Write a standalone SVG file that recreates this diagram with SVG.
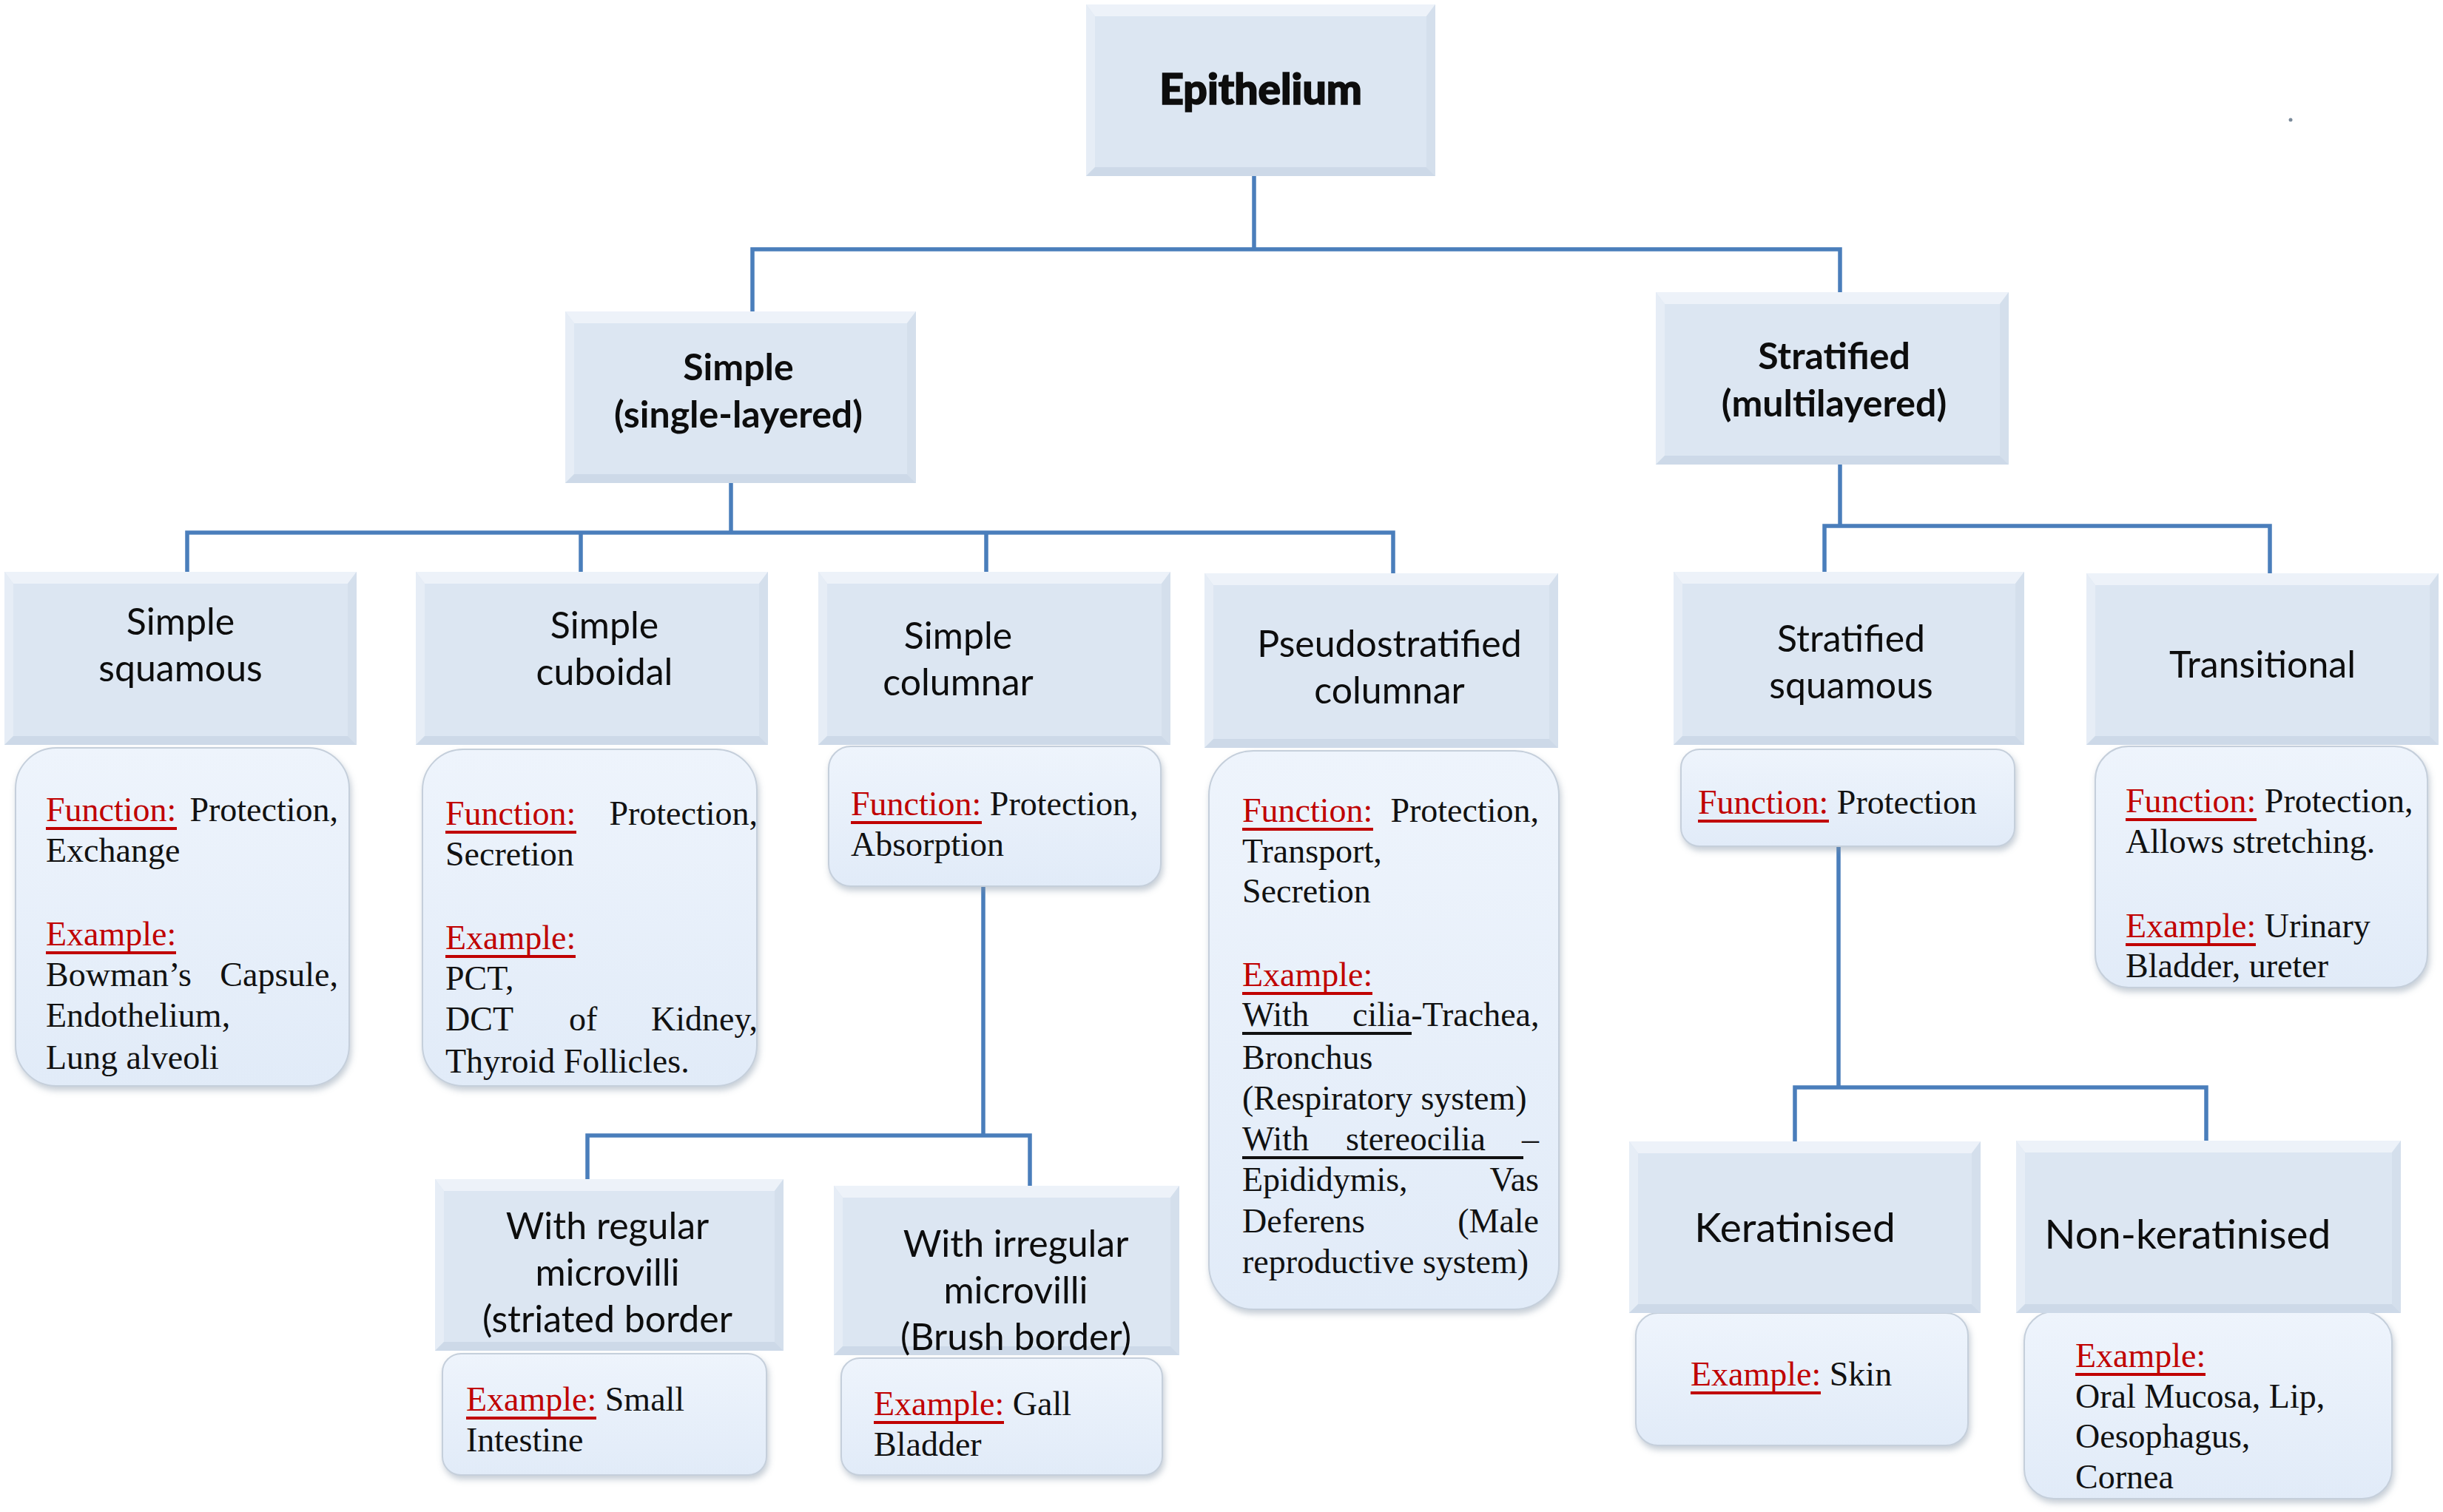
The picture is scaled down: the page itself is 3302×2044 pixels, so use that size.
<svg xmlns="http://www.w3.org/2000/svg" width="3302" height="2044" viewBox="0 0 3302 2044">
<defs>
<linearGradient id="dg" x1="0" y1="0" x2="0" y2="1">
<stop offset="0" stop-color="#EEF4FC"/>
<stop offset="1" stop-color="#E1EBF8"/>
</linearGradient>
<filter id="sh" x="-5%" y="-5%" width="112%" height="118%">
<feDropShadow dx="2" dy="5" stdDeviation="4" flood-color="#7f8fa3" flood-opacity="0.45"/>
</filter>
<style>
.hb{fill:#DCE6F2}
.bt{fill:#EDF2F9}
.bl{fill:#E6EDF6}
.br{fill:#D4DFEC}
.bb{fill:#CDD9E8}
.db{fill:url(#dg);stroke:#C5CFDB;stroke-width:2;filter:url(#sh)}
.c{fill:none;stroke:#4A7EBB;stroke-width:5.5}
.h{font-family:Lato,"Open Sans",sans-serif;font-size:50px;fill:#0d0d0d;text-anchor:middle}
.hB{font-family:Lato,"Open Sans",sans-serif;font-size:50px;font-weight:700;fill:#0d0d0d;text-anchor:middle}
.t{font-family:"Liberation Serif","Times New Roman",serif;font-size:46px;fill:#111}
.r{fill:#C00000}
.u{fill:#C00000}
.k{fill:#111}
</style>
</defs>
<rect width="3302" height="2044" fill="#ffffff"/>
<circle cx="3096" cy="162" r="2.5" fill="#7a8a9a"/>

<g id="connectors">
<path class="c" d="M1695 238 V337 M1017 421 V337 H2487 V395"/>
<path class="c" d="M988 653 V720 M253 775 V720 H1883 V775 M785 720 V775 M1333 720 V775"/>
<path class="c" d="M2487 628 V711 M2466 775 V711 H3068 V775"/>
<path class="c" d="M1329 1198 V1535 M794 1594 V1535 H1392 V1603"/>
<path class="c" d="M2485 1144 V1470 M2426 1543 V1470 H2982 V1542"/>
</g>

<!-- detail boxes -->
<g id="d-simple-squamous">
<rect class="db" x="21" y="1011" width="451" height="457" rx="55"/>
<g transform="translate(0,3)">
<text class="t" y="1107"><tspan x="62" class="r">Function:</tspan><tspan x="457" text-anchor="end">Protection,</tspan></text>
<rect class="u" x="62" y="1115" width="177" height="4"/>
<text class="t" x="62" y="1162">Exchange</text>
<text class="t r" x="62" y="1275">Example:</text>
<rect class="u" x="62" y="1283" width="176" height="4"/>
<text class="t" y="1330"><tspan x="62">Bowman’s</tspan><tspan x="457" text-anchor="end">Capsule,</tspan></text>
<text class="t" x="62" y="1385">Endothelium,</text>
<text class="t" x="62" y="1442">Lung alveoli</text>
</g>
</g>

<g id="d-simple-cuboidal">
<rect class="db" x="571" y="1013" width="452" height="455" rx="55"/>
<g transform="translate(0,3)">
<text class="t" y="1112"><tspan x="602" class="r">Function:</tspan><tspan x="1024" text-anchor="end">Protection,</tspan></text>
<rect class="u" x="602" y="1120" width="177" height="4"/>
<text class="t" x="602" y="1167">Secretion</text>
<text class="t r" x="602" y="1280">Example:</text>
<rect class="u" x="602" y="1288" width="176" height="4"/>
<text class="t" x="602" y="1335">PCT,</text>
<text class="t" y="1390"><tspan x="602">DCT</tspan><tspan x="769">of</tspan><tspan x="1024" text-anchor="end">Kidney,</tspan></text>
<text class="t" x="602" y="1447">Thyroid Follicles.</text>
</g>
</g>

<g id="d-simple-columnar">
<rect class="db" x="1120" y="1009" width="449" height="189" rx="30"/>
<g transform="translate(0,3)">
<text class="t" x="1150" y="1099"><tspan class="r">Function:</tspan> Protection,</text>
<rect class="u" x="1150" y="1107" width="177" height="4"/>
<text class="t" x="1150" y="1154">Absorption</text>
</g>
</g>

<g id="d-pseudostratified">
<rect class="db" x="1634" y="1015" width="473" height="755" rx="60"/>
<g transform="translate(0,3)">
<text class="t" y="1108"><tspan x="1679" class="r">Function:</tspan><tspan x="2080" text-anchor="end">Protection,</tspan></text>
<rect class="u" x="1679" y="1116" width="177" height="4"/>
<text class="t" x="1679" y="1163">Transport,</text>
<text class="t" x="1679" y="1217">Secretion</text>
<text class="t r" x="1679" y="1330">Example:</text>
<rect class="u" x="1679" y="1338" width="176" height="4"/>
<text class="t" y="1384"><tspan x="1679">With</tspan><tspan x="1828">cilia-Trachea,</tspan></text>
<rect class="k" x="1679" y="1392" width="229" height="4"/>
<text class="t" x="1679" y="1442">Bronchus</text>
<text class="t" x="1679" y="1497">(Respiratory system)</text>
<text class="t" y="1552"><tspan x="1679">With</tspan><tspan x="1819">stereocilia</tspan><tspan x="2080" text-anchor="end">–</tspan></text>
<rect class="k" x="1679" y="1560" width="380" height="4"/>
<text class="t" y="1607"><tspan x="1679">Epididymis,</tspan><tspan x="2080" text-anchor="end">Vas</tspan></text>
<text class="t" y="1663"><tspan x="1679">Deferens</tspan><tspan x="2080" text-anchor="end">(Male</tspan></text>
<text class="t" x="1679" y="1718">reproductive system)</text>
</g>
</g>

<g id="d-stratified-squamous">
<rect class="db" x="2272" y="1013" width="451" height="131" rx="25"/>
<g transform="translate(0,3)">
<text class="t" x="2295" y="1097"><tspan class="r">Function:</tspan> Protection</text>
<rect class="u" x="2295" y="1105" width="177" height="4"/>
</g>
</g>

<g id="d-transitional">
<rect class="db" x="2832" y="1009" width="449" height="326" rx="45"/>
<g transform="translate(0,3)">
<text class="t" x="2873" y="1095"><tspan class="r">Function:</tspan> Protection,</text>
<rect class="u" x="2873" y="1103" width="177" height="4"/>
<text class="t" x="2873" y="1150">Allows stretching.</text>
<text class="t" x="2873" y="1264"><tspan class="r">Example:</tspan> Urinary</text>
<rect class="u" x="2873" y="1272" width="176" height="4"/>
<text class="t" x="2873" y="1318">Bladder, ureter</text>
</g>
</g>

<g id="d-regular-microvilli">
<rect class="db" x="598" y="1830" width="438" height="164" rx="25"/>
<g transform="translate(0,3)">
<text class="t" x="630" y="1904"><tspan class="r">Example:</tspan> Small</text>
<rect class="u" x="630" y="1912" width="176" height="4"/>
<text class="t" x="630" y="1959">Intestine</text>
</g>
</g>

<g id="d-irregular-microvilli">
<rect class="db" x="1137" y="1836" width="434" height="158" rx="25"/>
<g transform="translate(0,3)">
<text class="t" x="1181" y="1910"><tspan class="r">Example:</tspan> Gall</text>
<rect class="u" x="1181" y="1918" width="176" height="4"/>
<text class="t" x="1181" y="1965">Bladder</text>
</g>
</g>

<g id="d-keratinised">
<rect class="db" x="2211" y="1775" width="449" height="179" rx="30"/>
<g transform="translate(0,3)">
<text class="t" x="2285" y="1870"><tspan class="r">Example:</tspan> Skin</text>
<rect class="u" x="2285" y="1878" width="176" height="4"/>
</g>
</g>

<g id="d-non-keratinised">
<rect class="db" x="2736" y="1773" width="497" height="253" rx="40"/>
<g transform="translate(0,3)">
<text class="t r" x="2805" y="1845">Example:</text>
<rect class="u" x="2805" y="1853" width="176" height="4"/>
<text class="t" x="2805" y="1900">Oral Mucosa, Lip,</text>
<text class="t" x="2805" y="1954">Oesophagus,</text>
<text class="t" x="2805" y="2009">Cornea</text>
</g>
</g>

<!-- header boxes -->
<g id="epithelium">
<rect class="hb" x="1468" y="6" width="472" height="232"/>
<polygon class="bt" points="1468,6 1940,6 1928,22 1480,22"/>
<polygon class="bl" points="1468,6 1480,22 1480,226 1468,238"/>
<polygon class="br" points="1940,6 1940,238 1928,226 1928,22"/>
<polygon class="bb" points="1468,238 1940,238 1928,226 1480,226"/>
<text x="1704" y="141" style="font-family:Lato,'Open Sans',sans-serif;font-size:57px;font-weight:900;fill:#0d0d0d;stroke:#0d0d0d;stroke-width:1.6;text-anchor:middle">Epithelium</text>
</g>

<g id="simple">
<rect class="hb" x="764" y="421" width="474" height="232"/>
<polygon class="bt" points="764,421 1238,421 1226,437 776,437"/>
<polygon class="bl" points="764,421 776,437 776,641 764,653"/>
<polygon class="br" points="1238,421 1238,653 1226,641 1226,437"/>
<polygon class="bb" points="764,653 1238,653 1226,641 776,641"/>
<text class="hB" x="998" y="514">Simple</text>
<text class="hB" x="998" y="578">(single-layered)</text>
</g>

<g id="stratified">
<rect class="hb" x="2238" y="395" width="477" height="233"/>
<polygon class="bt" points="2238,395 2715,395 2703,411 2250,411"/>
<polygon class="bl" points="2238,395 2250,411 2250,616 2238,628"/>
<polygon class="br" points="2715,395 2715,628 2703,616 2703,411"/>
<polygon class="bb" points="2238,628 2715,628 2703,616 2250,616"/>
<text class="hB" x="2479" y="499">Stratified</text>
<text class="hB" x="2479" y="563">(multilayered)</text>
</g>

<g id="simple-squamous">
<rect class="hb" x="6" y="773" width="476" height="234"/>
<polygon class="bt" points="6,773 482,773 470,789 18,789"/>
<polygon class="bl" points="6,773 18,789 18,995 6,1007"/>
<polygon class="br" points="482,773 482,1007 470,995 470,789"/>
<polygon class="bb" points="6,1007 482,1007 470,995 18,995"/>
<text class="h" x="244" y="858">Simple</text>
<text class="h" x="244" y="921">squamous</text>
</g>

<g id="simple-cuboidal">
<rect class="hb" x="562" y="773" width="476" height="234"/>
<polygon class="bt" points="562,773 1038,773 1026,789 574,789"/>
<polygon class="bl" points="562,773 574,789 574,995 562,1007"/>
<polygon class="br" points="1038,773 1038,1007 1026,995 1026,789"/>
<polygon class="bb" points="562,1007 1038,1007 1026,995 574,995"/>
<text class="h" x="817" y="863">Simple</text>
<text class="h" x="817" y="926">cuboidal</text>
</g>

<g id="simple-columnar">
<rect class="hb" x="1106" y="773" width="476" height="234"/>
<polygon class="bt" points="1106,773 1582,773 1570,789 1118,789"/>
<polygon class="bl" points="1106,773 1118,789 1118,995 1106,1007"/>
<polygon class="br" points="1582,773 1582,1007 1570,995 1570,789"/>
<polygon class="bb" points="1106,1007 1582,1007 1570,995 1118,995"/>
<text class="h" x="1295" y="877">Simple</text>
<text class="h" x="1295" y="940">columnar</text>
</g>

<g id="pseudostratified-columnar">
<rect class="hb" x="1628" y="775" width="478" height="236"/>
<polygon class="bt" points="1628,775 2106,775 2094,791 1640,791"/>
<polygon class="bl" points="1628,775 1640,791 1640,999 1628,1011"/>
<polygon class="br" points="2106,775 2106,1011 2094,999 2094,791"/>
<polygon class="bb" points="1628,1011 2106,1011 2094,999 1640,999"/>
<text class="h" x="1878" y="888">Pseudostratified</text>
<text class="h" x="1878" y="951">columnar</text>
</g>

<g id="stratified-squamous">
<rect class="hb" x="2262" y="773" width="474" height="234"/>
<polygon class="bt" points="2262,773 2736,773 2724,789 2274,789"/>
<polygon class="bl" points="2262,773 2274,789 2274,995 2262,1007"/>
<polygon class="br" points="2736,773 2736,1007 2724,995 2724,789"/>
<polygon class="bb" points="2262,1007 2736,1007 2724,995 2274,995"/>
<text class="h" x="2502" y="881">Stratified</text>
<text class="h" x="2502" y="944">squamous</text>
</g>

<g id="transitional">
<rect class="hb" x="2820" y="775" width="476" height="232"/>
<polygon class="bt" points="2820,775 3296,775 3284,791 2832,791"/>
<polygon class="bl" points="2820,775 2832,791 2832,995 2820,1007"/>
<polygon class="br" points="3296,775 3296,1007 3284,995 3284,791"/>
<polygon class="bb" points="2820,1007 3296,1007 3284,995 2832,995"/>
<text class="h" x="3058" y="916">Transitional</text>
</g>

<g id="regular-microvilli">
<rect class="hb" x="588" y="1594" width="471" height="232"/>
<polygon class="bt" points="588,1594 1059,1594 1047,1610 600,1610"/>
<polygon class="bl" points="588,1594 600,1610 600,1814 588,1826"/>
<polygon class="br" points="1059,1594 1059,1826 1047,1814 1047,1610"/>
<polygon class="bb" points="588,1826 1059,1826 1047,1814 600,1814"/>
<text class="h" x="821" y="1675">With regular</text>
<text class="h" x="821" y="1738">microvilli</text>
<text class="h" x="821" y="1801">(striated border</text>
</g>

<g id="irregular-microvilli">
<rect class="hb" x="1127" y="1603" width="467" height="229"/>
<polygon class="bt" points="1127,1603 1594,1603 1582,1619 1139,1619"/>
<polygon class="bl" points="1127,1603 1139,1619 1139,1820 1127,1832"/>
<polygon class="br" points="1594,1603 1594,1832 1582,1820 1582,1619"/>
<polygon class="bb" points="1127,1832 1594,1832 1582,1820 1139,1820"/>
<text class="h" x="1373" y="1699">With irregular</text>
<text class="h" x="1373" y="1762">microvilli</text>
<text class="h" x="1373" y="1825">(Brush border)</text>
</g>

<g id="keratinised">
<rect class="hb" x="2202" y="1543" width="475" height="232"/>
<polygon class="bt" points="2202,1543 2677,1543 2665,1559 2214,1559"/>
<polygon class="bl" points="2202,1543 2214,1559 2214,1763 2202,1775"/>
<polygon class="br" points="2677,1543 2677,1775 2665,1763 2665,1559"/>
<polygon class="bb" points="2202,1775 2677,1775 2665,1763 2214,1763"/>
<text class="h" x="2426" y="1679" style="font-size:55px">Keratinised</text>
</g>

<g id="non-keratinised">
<rect class="hb" x="2725" y="1542" width="520" height="233"/>
<polygon class="bt" points="2725,1542 3245,1542 3233,1558 2737,1558"/>
<polygon class="bl" points="2725,1542 2737,1558 2737,1763 2725,1775"/>
<polygon class="br" points="3245,1542 3245,1775 3233,1763 3233,1558"/>
<polygon class="bb" points="2725,1775 3245,1775 3233,1763 2737,1763"/>
<text class="h" x="2957" y="1688" style="font-size:55px">Non-keratinised</text>
</g>
</svg>
